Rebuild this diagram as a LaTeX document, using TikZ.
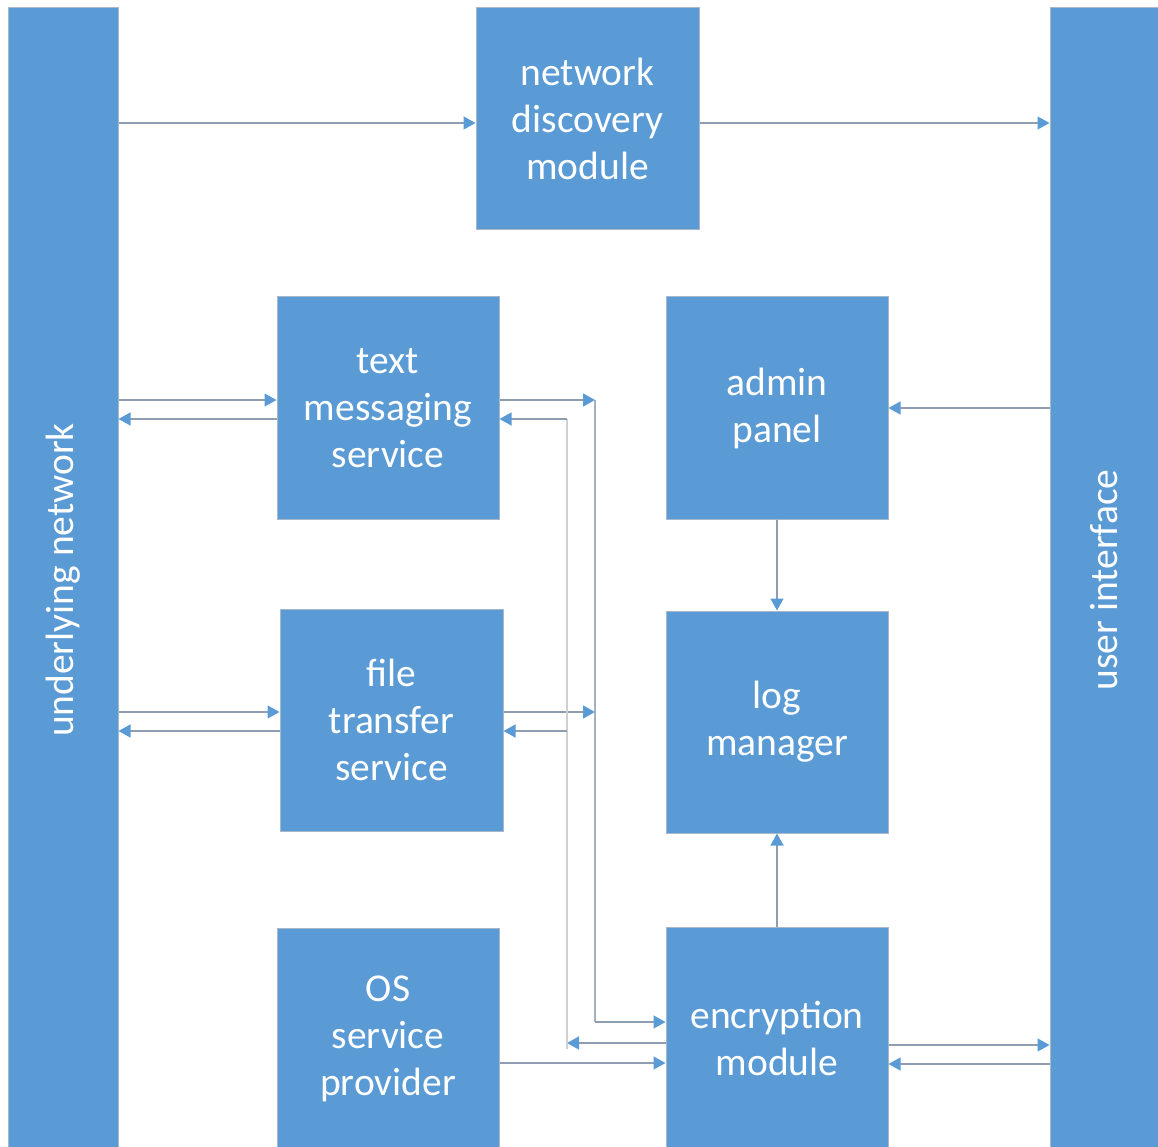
\documentclass[tikz,border=0pt]{standalone}
\usepackage{fontspec}
\setmainfont{Carlito}
\usetikzlibrary{arrows.meta}
\definecolor{boxblue}{HTML}{5B9BD5}
\definecolor{boxedge}{HTML}{A9B8C9}
\definecolor{wirecol}{HTML}{8E9DB2}
\definecolor{wirelight}{HTML}{CDD0D4}
\definecolor{tipblue}{HTML}{5B9BD5}
\begin{document}
\begin{tikzpicture}[x=1pt,y=-1pt,
  block/.style={draw=boxedge, line width=1pt, fill=boxblue, text=white,
    align=center, inner sep=0pt, minimum width=222pt, minimum height=222pt,
    font=\fontsize{39.5}{47}\selectfont},
  bar/.style={block, minimum height=1144pt},
  wire/.style={draw=wirecol, line width=1.5pt,
    -{Triangle[length=12pt,width=13pt,color=tipblue]}},
  bus/.style={draw=wirecol!80, line width=1.5pt},
  buslight/.style={draw=wirelight, line width=1.5pt}]
\useasboundingbox (0,0) rectangle (1158,1147);
\clip (0,0) rectangle (1158,1147);

% side bars
\node[bar, minimum width=110pt] (net) at (63,580) {\rotatebox{90}{underlying network}};
\node[bar, minimum width=108pt] (ui) at (1104,580) {\rotatebox{90}{user interface}};

% modules
\node[block, minimum width=223pt] (nd) at (587.5,119) {network\\discovery\\module};
\node[block] (tms) at (388,408) {text\\messaging\\service};
\node[block] (adm) at (777,408) {admin\\panel};
\node[block, minimum width=223pt] (fts) at (391.5,720) {file\\transfer\\service};
\node[block] (log) at (777,722) {log\\manager};
\node[block] (os) at (388,1039) {OS\\service\\provider};
\node[block] (enc) at (777,1038) {encryption\\module};

% bus corners between the services and the encryption module
\coordinate (fwdtop) at (595,400);
\coordinate (fwdmid) at (595,712);
\coordinate (fwdbot) at (595,1022);
\coordinate (rettop) at (567,419);
\coordinate (retmid) at (567,731);
\coordinate (retbot) at (567,1043);

% discovery
\draw[wire] (net.east |- 0,123) -- (nd.west |- 0,123);
\draw[wire] (nd.east |- 0,123) -- (ui.west |- 0,123);

% network <-> services
\draw[wire] (net.east |- 0,400) -- (tms.west |- 0,400);
\draw[wire] (tms.west |- 0,419) -- (net.east |- 0,419);
\draw[wire] (net.east |- 0,712) -- (fts.west |- 0,712);
\draw[wire] (fts.west |- 0,731) -- (net.east |- 0,731);

% services -> encryption
\draw[wire] (tms.east |- fwdtop) -- (fwdtop);
\draw[wire] (fts.east |- fwdmid) -- (fwdmid);
\draw[bus] (fwdtop) -- (fwdbot);
\draw[wire] (fwdbot) -- (enc.west |- fwdbot);

% encryption -> services
\draw[wire] (enc.west |- retbot) -- (retbot);
\draw[buslight] (rettop) -- ([yshift=-6pt]retbot);
\draw[wire] (rettop) -- (tms.east |- rettop);
\draw[wire] (retmid) -- (fts.east |- retmid);

% OS provider, user interface, logging
\draw[wire] (os.east |- 0,1063) -- (enc.west |- 0,1063);
\draw[wire] (enc.east |- 0,1045) -- (ui.west |- 0,1045);
\draw[wire] (ui.west |- 0,1064) -- (enc.east |- 0,1064);
\draw[wire] (ui.west |- 0,408) -- (adm.east |- 0,408);
\draw[wire] (adm.south) -- (log.north);
\draw[wire] (enc.north) -- (log.south);
\end{tikzpicture}
\end{document}
